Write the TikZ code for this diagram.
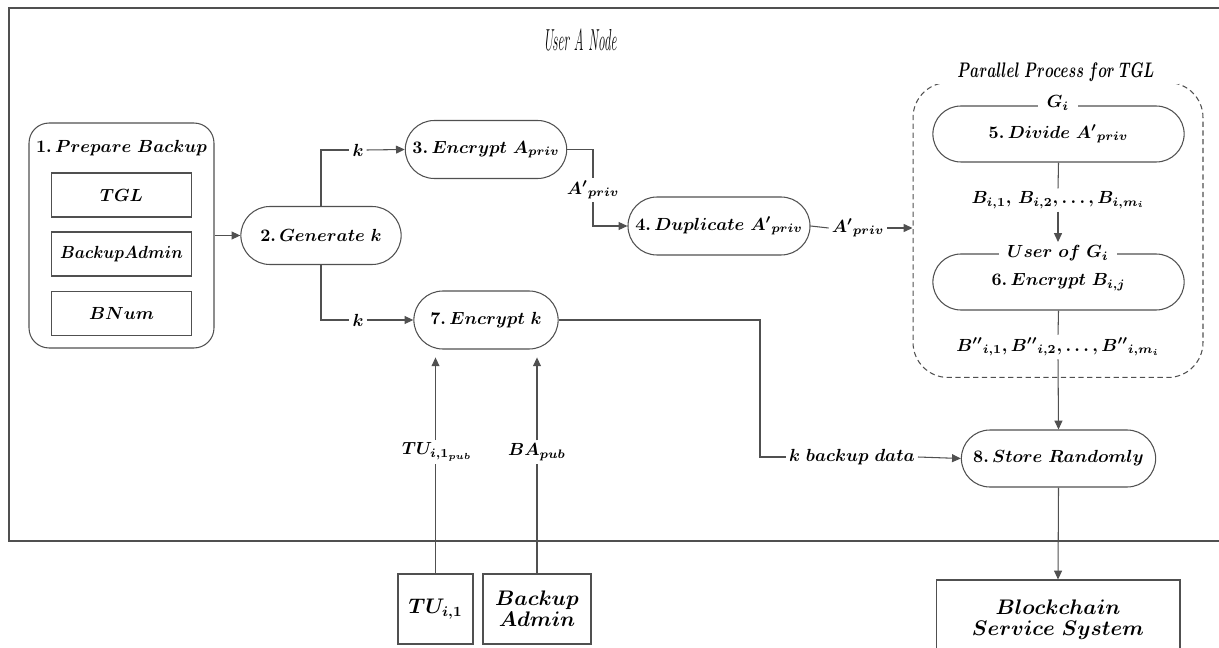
\documentclass[tikz,border=0pt]{standalone}
\usepackage{amsmath,amssymb,amsfonts}
\usepackage{xcolor}
\usepackage{graphicx}
\usepackage{tikz}
\usetikzlibrary{shapes.misc,arrows.meta}
\definecolor{linegray}{HTML}{505050}

\begin{document}
\begin{tikzpicture}[x=0.02cm, y=-0.02cm, >={Triangle[length=5pt,width=4.5pt]}, line width=0.6pt,
  every node/.style={font=\boldmath},
  stadium/.style={rounded rectangle, draw=linegray, minimum height=1.16cm},
  box/.style={rectangle, draw=linegray, align=center},
  lbl/.style={fill=white, inner sep=1.5pt},
  wire/.style={draw=linegray}]
   \useasboundingbox (0 , 0) rectangle (1219 , 648);
   % outer frame of user node
   \draw [linegray, line width=1pt] (9 , 8) rectangle (1240 , 541);
   \node (title) at (580 , 40) {\scalebox{0.44}[1]{\LARGE\itshape User A Node}};

   % step 1 with its inputs
   \node [box, rounded corners=0.4cm, minimum width=3.7cm, minimum height=4.5cm] (prep) at (121.5 , 235.5) {};
   \node (prept) at (121.5 , 148) {$1.\,Prepare\ Backup$};
   \node [box, minimum width=2.8cm, minimum height=0.88cm] (tgl) at (121.5 , 195) {$TGL$};
   \node [box, minimum width=2.8cm, minimum height=0.88cm, inner xsep=0pt] (badm) at (121.5 , 254) {\scalebox{0.92}[1]{$BackupAdmin$}};
   \node [box, minimum width=2.8cm, minimum height=0.88cm] (bnum) at (121.5 , 313.5) {$BNum$};

   \node [stadium, minimum width=3.44cm] (gen) at (321 , 235.5) {$2.\,Generate\ k$};
   \node [stadium, minimum width=3.12cm] (enca) at (486 , 149.5) {$3.\,Encrypt\ A_{priv}$};
   \node [stadium, minimum width=3.64cm] (dup) at (719 , 226) {$4.\,Duplicate\ {A'}_{priv}$};
   \node [stadium, minimum width=3.12cm] (enck) at (486 , 320) {$7.\,Encrypt\ k$};

   % parallel part
   \node [draw=linegray, dash pattern=on 3pt off 2pt, rounded corners=0.7cm, minimum width=5.8cm, minimum height=5.9cm] (grp) at (1058 , 230) {};
   \node [lbl, inner xsep=14pt] (grpt) at (1056 , 72) {\scalebox{0.68}[1]{\large$Parallel\ Process\ for\ TGL$}};
   \node [stadium, minimum width=5.26cm, minimum height=1.12cm] (div) at (1058.5 , 134) {$5.\,Divide\ {A'}_{priv}$};
   \node [lbl, inner xsep=5pt] (gi) at (1058 , 103) {$G_i$};
   \node [lbl] (blist) at (1058 , 200) {$B_{i,1},\,B_{i,2},\ldots,B_{i,m_i}$};
   \node [stadium, minimum width=5.26cm, minimum height=1.12cm] (encb) at (1058.5 , 282) {$6.\,Encrypt\ B_{i,j}$};
   \node [lbl, inner xsep=5pt] (usr) at (1058 , 253) {$User\ of\ G_i$};
   \node [lbl] (bdlist) at (1058 , 347) {${B''}_{i,1},{B''}_{i,2},\ldots,{B''}_{i,m_i}$};

   \node [stadium, minimum width=4.12cm, minimum height=1.14cm] (store) at (1058.5 , 458.5) {$8.\,Store\ Randomly$};

   % outside parties
   \node [box, minimum width=1.5cm, minimum height=1.4cm, font=\large\boldmath] (tu) at (435.5 , 609) {$TU_{i,1}$};
   \node [box, minimum width=2.16cm, minimum height=1.4cm, font=\large\boldmath] (ba) at (537 , 609) {$Backup$\\[-2pt]$Admin$};
   \node [box, minimum width=4.88cm, minimum height=1.6cm, font=\large\boldmath] (bcs) at (1058 , 620) {$Blockchain$\\[-2pt]$Service\ System$};

   % edge labels
   \node [lbl] (k1) at (358 , 150) {$k$};
   \node [lbl] (k2) at (358 , 320) {$k$};
   \node [lbl] (ap1) at (593 , 190) {${A'}_{priv}$};
   \node [lbl] (ap2) at (858 , 228) {${A'}_{priv}$};
   \node [lbl] (tup) at (437 , 452) {$TU_{i,1_{pub}}$};
   \node [lbl] (bap) at (537 , 452) {$BA_{pub}$};
   \node [lbl] (kbd) at (852 , 457) {$k\ backup\ data$};
   \coordinate (bend) at (760 , 457);

   \draw [wire, ->] (prep.east |- gen.west) -- (gen.west);
   \draw [wire] (gen.north) |- (k1.west);
   \draw [wire, ->] (k1.east) -- (enca.west);
   \draw [wire] (gen.south) |- (k2.west);
   \draw [wire, ->] (k2.east) -- (enck.west);
   \draw [wire] (enca.east) -| (ap1.north);
   \draw [wire, ->] (ap1.south) |- (dup.west);
   \draw [wire] (dup.east) -- (ap2.west);
   \draw [wire, ->] (ap2.east) -- (grp.west |- ap2.east);
   \draw [wire] (div.south) -- (blist.north);
   \draw [wire, ->] (blist.south) -- (usr.north);
   \draw [wire] (encb.south) -- (bdlist.north);
   \draw [wire, ->] (bdlist.south) -- (store.north);
   \draw [wire] (enck.east) -| (bend) -- (kbd.west);
   \draw [wire, ->] (kbd.east) -- (store.west);
   \draw [wire, ->] (store.south) -- (bcs.north);
   \draw [wire] (tu.north) -- (tu.north |- tup.south);
   \draw [wire, ->] (tu.north |- tup.north) -- ([yshift=-4.5pt]tu.north |- enck.south);
   \draw [wire] (ba.north) -- (bap.south);
   \draw [wire, ->] (bap.north) -- ([yshift=-4.5pt]bap.north |- enck.south);
\end{tikzpicture}
\end{document}
